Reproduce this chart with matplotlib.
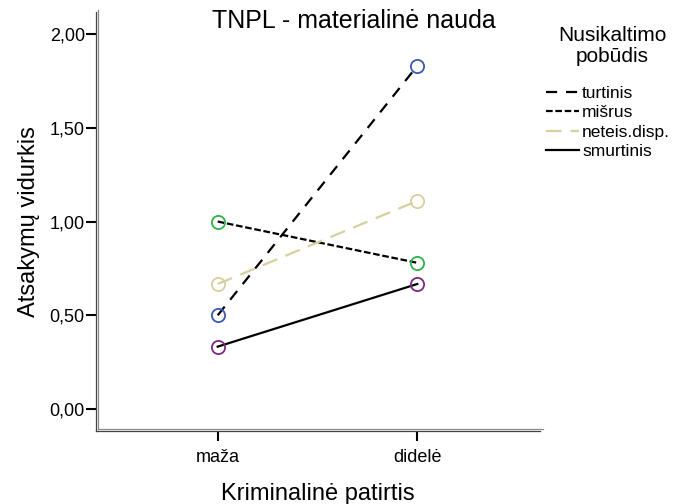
import matplotlib
matplotlib.use("Agg")
import matplotlib.pyplot as plt
import matplotlib.transforms as mtransforms

plt.rcParams['font.family'] = ['Liberation Sans', 'DejaVu Sans']

# data
categories = ["maža", "didelė"]
series_names = ["turtinis", "mišrus", "neteis.disp.", "smurtinis"]
turtinis = [0.50, 1.83]
misrus = [1.00, 0.78]
neteis = [0.667, 1.11]
smurtinis = [0.333, 0.667]
yticks = [0.0, 0.5, 1.0, 1.5, 2.0]
ytick_labels = ["0,00", "0,50", "1,00", "1,50", "2,00"]

values = [turtinis, misrus, neteis, smurtinis]
line_colors = ["black", "black", "#d6d09e", "black"]
marker_colors = ["#3b57b4", "#2db34a", "#d6d09e", "#7d2a7e"]
dash_styles = [(0, (5, 4)), (0, (3, 1.2)), (0, (7, 4)), "-"]

fig = plt.figure(figsize=(6.75, 5.04), dpi=100)
ax = fig.add_axes([0.1422, 0.1448, 0.8-0.1422, 0.976-0.1448])

x = list(range(len(categories)))
handles = []
for name, vals, lc, mc, ls in zip(series_names, values, line_colors, marker_colors, dash_styles):
    ln, = ax.plot(x, vals, color=lc, linestyle=ls, linewidth=1.6, label=name)
    ax.plot(x, vals, linestyle="none", marker="o", markersize=9.5,
            markerfacecolor="none", markeredgecolor=mc, markeredgewidth=1.3)
    handles.append(ln)

ax.set_xlim(-0.61, 1.615)
ax.set_ylim(-0.117, 2.117)
ax.set_xticks(x)
ax.set_xticklabels(categories, fontsize=13)
ax.set_yticks(yticks)
ax.set_yticklabels(ytick_labels, fontsize=13)
ax.tick_params(axis="both", direction="out", length=7, width=1.5, color="black", pad=1)
ax.tick_params(axis="x", pad=6)

for s in ["top", "right"]:
    ax.spines[s].set_visible(False)
for s in ["left", "bottom"]:
    ax.spines[s].set_color("#444444")
    ax.spines[s].set_linewidth(0.9)

# second line of the double axis frame
off = mtransforms.ScaledTranslation(2.5/100, 2.5/100, fig.dpi_scale_trans)
ax.plot([0, 0], [0, 1], transform=ax.transAxes + off, color="#888888", lw=0.9, clip_on=False)
ax.plot([0, 1], [0, 0], transform=ax.transAxes + off, color="#888888", lw=0.9, clip_on=False)

ax.set_ylabel("Atsakymų vidurkis", fontsize=17, labelpad=7)
ax.set_xlabel("Kriminalinė patirtis", fontsize=17, labelpad=12)
fig.text(354/675, 1-21/504, "TNPL - materialinė nauda", fontsize=18, ha="center", va="center")

fig.text(612/675, 1-46/504, "Nusikaltimo\npobūdis", fontsize=15, ha="center", va="center",
         linespacing=1.1)
fig.legend(handles=handles, labels=series_names, loc="upper left",
           bbox_to_anchor=(537/675, 1-77/504), frameon=False, fontsize=12.5,
           handlelength=1.9, handletextpad=0.2, labelspacing=0.25, borderpad=0)

fig.savefig("out.png", dpi=100)
